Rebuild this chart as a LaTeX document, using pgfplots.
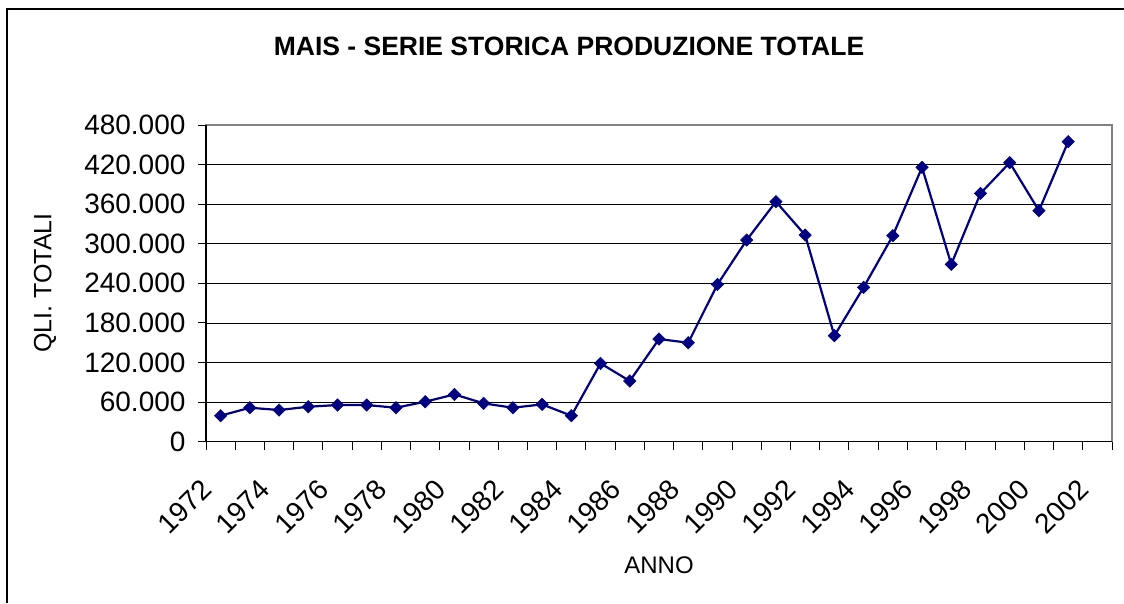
\documentclass[border=0pt]{standalone}
\usepackage{pgfplots}
\pgfplotsset{compat=1.18}
\usepackage{fontspec}
\setmainfont{Liberation Sans}
\definecolor{navy}{RGB}{0,0,128}
\begin{document}
\begin{tikzpicture}[x=1pt,y=1pt]
\useasboundingbox (0,0) rectangle (1124,-603);
\draw[line width=1.2pt] (7,-603) -- (7,-9) -- (1124,-9);
\node[font=\fontsize{26.5}{30}\selectfont\bfseries] at (569,-46) {MAIS - SERIE STORICA PRODUZIONE TOTALE};
\node[rotate=90,font=\fontsize{25}{30}\selectfont] at (45,-283) {QLI. TOTALI};
\node[font=\fontsize{24}{28}\selectfont] at (659,-565) {ANNO};
\begin{axis}[
  at={(206pt,-441.7pt)}, anchor=south west,
  scale only axis, width=906pt, height=316.7pt,
  xmin=1971.5, xmax=2002.5, ymin=0, ymax=480000,
  ytick={0,60000,...,480000},
  scaled y ticks=false,
  yticklabel style={xshift=-9pt, /pgf/number format/fixed, /pgf/number format/1000 sep={.}, /pgf/number format/assume math mode=true},
  xtick={1972,1974,...,2002},
  xticklabels={1972,1974,1976,1978,1980,1982,1984,1986,1988,1990,1992,1994,1996,1998,2000,2002},
  minor xtick={1971.5,1972.5,...,2002.5},
  major x tick style={draw=none},
  minor x tick style={draw=black, line width=1pt},
  major y tick style={draw=black, line width=1pt},
  major tick length=8pt, minor tick length=8pt,
  tick align=outside, tick pos=left,
  tick label style={font=\fontsize{28}{32}\selectfont},
  x tick label style={xshift=-21pt, yshift=-23pt, rotate=45, anchor=north east},
  ymajorgrids, major grid style={black, line width=0.8pt},
  axis line style={draw=gray, line width=1.5pt},
  clip=false,
]
\addplot[navy, line width=2.2pt, mark=square*, mark size=4.4pt, mark options={rotate=45,fill=navy,draw=navy,line width=0.5pt}] coordinates {
(1972,39400) (1973,51500) (1974,48000) (1975,53000) (1976,55600) (1977,55600)
(1978,51500) (1979,60600) (1980,71700) (1981,58100) (1982,51500) (1983,56600)
(1984,39400) (1985,118700) (1986,92000) (1987,155600) (1988,150000) (1989,238400)
(1990,305600) (1991,363800) (1992,313200) (1993,160700) (1994,233900) (1995,312200)
(1996,415800) (1997,268800) (1998,376400) (1999,422900) (2000,350100) (2001,454700)
};
\draw[black, line width=1.5pt] (rel axis cs:0,1) -- (rel axis cs:0,0) -- (rel axis cs:1,0);
\end{axis}
\end{tikzpicture}
\end{document}
